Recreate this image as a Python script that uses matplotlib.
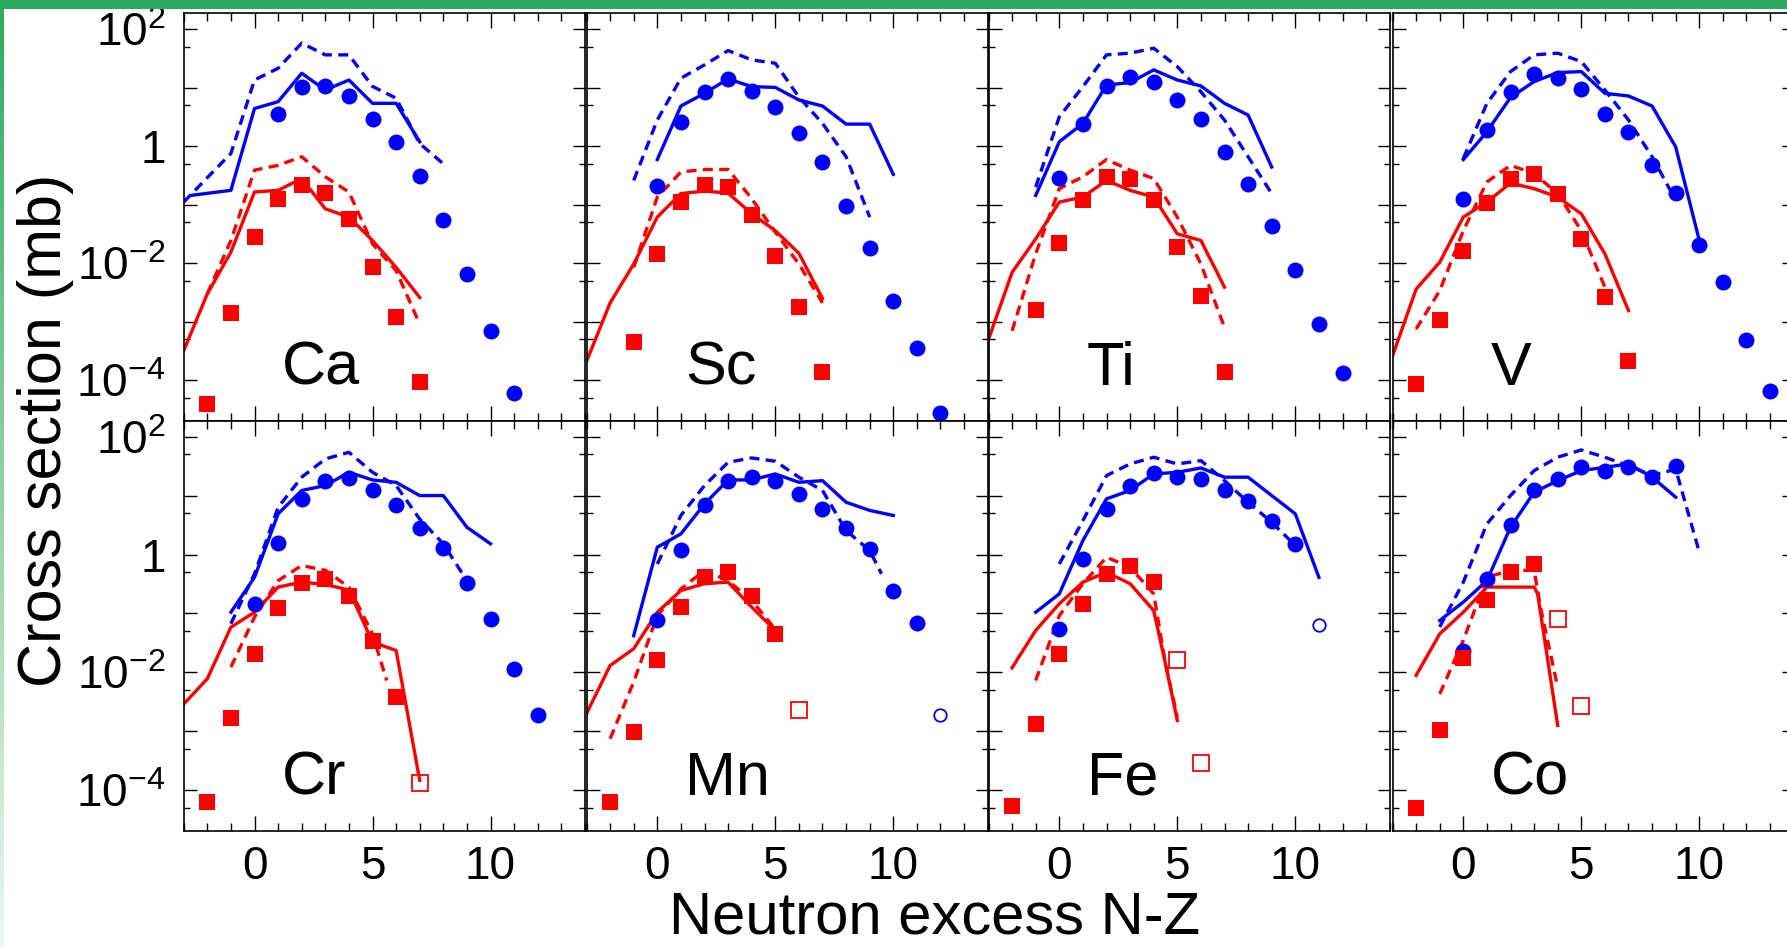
import numpy as np
import matplotlib
matplotlib.use("Agg")
import matplotlib.pyplot as plt
from matplotlib.ticker import FixedLocator, MultipleLocator, FuncFormatter, NullFormatter
from matplotlib.patches import Rectangle

plt.rcParams['font.family'] = ['Liberation Sans', 'DejaVu Sans']
plt.rcParams['mathtext.fontset'] = 'custom'
plt.rcParams['mathtext.rm'] = 'Liberation Sans'
plt.rcParams['mathtext.it'] = 'Liberation Sans:italic'
plt.rcParams['mathtext.bf'] = 'Liberation Sans:bold'

# ---------------- data ----------------
# naming: <el>_b / _r = blue circles / red squares (data),
# _bs / _bd = blue solid / dashed model, _rs / _rd = red solid / dashed model,
# _bo / _ro = open symbols

# Ca
ca_b_x = [1, 2, 3, 4, 5, 6, 7, 8, 9, 10, 11]
ca_b = [3.6, 10.1, 10.6, 7.2, 2.9, 1.16, 0.31, 0.055, 0.0066, 7.0e-4, 6.1e-5]
ca_r_x = [-2, -1, 0, 1, 2, 3, 4, 5, 6, 7]
ca_r = [3.9e-5, 1.39e-3, 0.028, 0.123, 0.214, 0.158, 0.0575, 8.5e-3, 1.19e-3, 9.4e-5]
ca_bs_x = [-2.7, -1, 0, 1, 2, 3, 4, 5, 6, 7]
ca_bs = [0.144, 0.176, 4.4, 5.75, 17.6, 9.1, 13.5, 5.4, 5.4, 1.19]
ca_bd_x = [-3, -2, -1, 0, 1, 2, 3, 4, 5, 6, 7, 8]
ca_bd = [0.111, 0.29, 0.75, 13.5, 21.4, 57.5, 36.3, 36.3, 10.5, 6.6, 1.11, 0.50]
ca_rs_x = [-3, -2, -1, 0, 1, 2, 3, 4, 5, 6, 7]
ca_rs = [3.2e-4, 3.0e-3, 0.0155, 0.165, 0.176, 0.28, 0.085, 0.0615, 0.0245, 8.5e-3, 2.6e-3]
ca_rd_x = [-2, -1, 0, 1, 2, 3, 4, 5, 6, 7]
ca_rd = [3.0e-3, 0.0245, 0.39, 0.47, 0.66, 0.30, 0.165, 0.0214, 7.5e-3, 9.1e-4]

# Sc
sc_b_x = [0, 1, 2, 3, 4, 5, 6, 7, 8, 9, 10, 11, 12]
sc_b = [0.206, 2.6, 8.5, 13.9, 8.9, 4.6, 1.65, 0.54, 0.094, 0.0183, 2.3e-3, 3.5e-4, 2.8e-5]
sc_r_x = [-1, 0, 1, 2, 3, 4, 5, 6, 7]
sc_r = [4.6e-4, 0.0145, 0.111, 0.214, 0.2, 0.067, 0.0135, 1.76e-3, 1.4e-4]
sc_bs_x = [0, 1, 2, 3, 4, 5, 6, 7, 8, 9, 10]
sc_bs = [0.59, 4.85, 8.0, 14.1, 10.4, 10.1, 6.15, 4.85, 2.38, 2.38, 0.33]
sc_bd_x = [-1, 0, 1, 2, 3, 4, 5, 6, 7, 8, 9]
sc_bd = [0.26, 2.8, 14.5, 24.5, 43, 29.8, 26.1, 6.9, 2.45, 0.66, 0.0615]
sc_rs_x = [-3, -2, -1, 0, 1, 2, 3, 4, 5, 6, 7]
sc_rs = [2.1e-4, 2.1e-3, 9.7e-3, 0.0615, 0.155, 0.171, 0.158, 0.070, 0.036, 0.0148, 2.5e-3]
sc_rd_x = [-1, 0, 1, 2, 3, 4, 5, 6, 7]
sc_rd = [8.5e-3, 0.135, 0.363, 0.4, 0.4, 0.127, 0.034, 9.7e-3, 2.1e-3]

# Ti
ti_b_x = [0, 1, 2, 3, 4, 5, 6, 7, 8, 9, 10, 11, 12]
ti_b = [0.29, 2.38, 10.7, 15.0, 12.7, 6.15, 2.87, 0.80, 0.23, 0.0425, 7.7e-3, 9.1e-4, 1.35e-4]
ti_r_x = [-1, 0, 1, 2, 3, 4, 5, 6, 7]
ti_r = [1.58e-3, 0.022, 0.122, 0.30, 0.27, 0.122, 0.0188, 2.8e-3, 1.4e-4]
ti_bs_x = [-1, 0, 1, 2, 3, 4, 5, 6, 7, 8, 9]
ti_bs = [0.144, 1.19, 2.45, 11.1, 12.2, 20.1, 13.5, 10.7, 5.4, 3.4, 0.44]
ti_bd_x = [-1, 0, 1, 2, 3, 4, 5, 6, 7, 8, 9]
ti_bd = [0.2, 3.18, 10.4, 36.3, 38.8, 47.2, 22.9, 8.5, 2.8, 0.66, 0.155]
ti_rs_x = [-3, -2, -1, 0, 1, 2, 3, 4, 5, 6, 7]
ti_rs = [5.0e-4, 7.0e-3, 0.026, 0.111, 0.135, 0.26, 0.176, 0.135, 0.0318, 0.0245, 3.9e-3]
ti_rd_x = [-2, -1, 0, 1, 2, 3, 4, 5, 6, 7]
ti_rd = [7.0e-4, 0.0145, 0.188, 0.3, 0.59, 0.39, 0.28, 0.0615, 9.7e-3, 8.0e-4]

# V
v_b_x = [0, 1, 2, 3, 4, 5, 6, 7, 8, 9, 10, 11, 12, 13]
v_b = [0.127, 1.88, 8.5, 17.1, 14.5, 9.4, 3.54, 1.76, 0.47, 0.158, 0.0209, 4.7e-3, 4.9e-4, 6.6e-5]
v_r_x = [-2, -1, 0, 1, 2, 3, 4, 5, 6, 7]
v_r = [8.8e-5, 1.07e-3, 0.0161, 0.108, 0.27, 0.33, 0.15, 0.026, 2.6e-3, 2.1e-4]
v_bs_x = [0, 1, 2, 3, 4, 5, 6, 7, 8, 9, 10]
v_bs = [0.59, 1.76, 6.8, 12.7, 18.1, 18.8, 8.0, 7.2, 4.85, 0.97, 0.0245]
v_bd_x = [0, 1, 2, 3, 4, 5, 6, 7, 8, 9]
v_bd = [0.615, 5.4, 18.8, 36.3, 38.8, 27.9, 9.1, 2.8, 0.66, 0.119]
v_rs_x = [-3, -2, -1, 0, 1, 2, 3, 4, 5, 6, 7]
v_rs = [2.6e-4, 3.6e-3, 0.0104, 0.0615, 0.111, 0.235, 0.188, 0.135, 0.070, 0.0145, 1.55e-3]
v_rd_x = [-2, -1, 0, 1, 2, 3, 4, 5, 6]
v_rd = [7.5e-4, 3.4e-3, 0.036, 0.245, 0.47, 0.34, 0.155, 0.036, 3.9e-3]

# Cr
cr_b_x = [0, 1, 2, 3, 4, 5, 6, 7, 8, 9, 10, 11, 12]
cr_b = [0.146, 1.56, 8.8, 17.9, 19.7, 12.2, 6.8, 2.83, 1.3, 0.33, 0.081, 0.0115, 1.9e-3]
cr_r_x = [-2, -1, 0, 1, 2, 3, 4, 5, 6]
cr_r = [6.3e-5, 1.7e-3, 0.0207, 0.125, 0.33, 0.39, 0.20, 0.0335, 3.9e-3]
cr_ro_x = [7]
cr_ro = [1.33e-4]
cr_bs_x = [-1, 0, 1, 2, 3, 4, 5, 6, 7, 8, 9, 10]
cr_bs = [0.105, 0.41, 4.9, 12.2, 14.8, 24.8, 18.4, 16.8, 10, 10, 2.9, 1.52]
cr_bd_x = [-1, 0, 1, 2, 3, 4, 5, 6, 7, 8, 9]
cr_bd = [0.067, 0.47, 6.3, 20.5, 41.8, 54.2, 24.8, 14.8, 4.0, 1.52, 0.36]
cr_rs_x = [-3, -2, -1, 0, 1, 2, 3, 4, 5, 6, 7]
cr_rs = [2.9e-3, 7.8e-3, 0.0586, 0.105, 0.28, 0.34, 0.31, 0.25, 0.0327, 0.0236, 1.48e-4]
cr_rd_x = [-1, 0, 1, 2, 3, 4, 5, 5.6]
cr_rd = [0.0123, 0.087, 0.36, 0.65, 0.54, 0.28, 0.045, 7.3e-3]

# Mn
mn_b_x = [0, 1, 2, 3, 4, 5, 6, 7, 8, 9, 10, 11]
mn_b = [0.076, 1.17, 7.0, 17.9, 21.0, 17.9, 10.7, 5.9, 2.8, 1.25, 0.245, 0.0695]
mn_bo_x = [12]
mn_bo = [1.87e-3]
mn_r_x = [-2, -1, 0, 1, 2, 3, 4, 5]
mn_r = [6.3e-5, 9.7e-4, 0.0164, 0.128, 0.41, 0.50, 0.20, 0.045]
mn_ro_x = [6]
mn_ro = [2.27e-3]
mn_bs_x = [-1, 0, 1, 2, 3, 4, 5, 6, 7, 8, 9, 10]
mn_bs = [0.042, 1.33, 2.24, 7.2, 18.4, 18.4, 23.3, 16.8, 17.9, 7.7, 5.6, 4.6]
mn_bd_x = [0, 1, 2, 3, 4, 5, 6, 7, 8, 9, 9.5]
mn_bd = [0.69, 4.6, 14.8, 36.7, 43.5, 38.2, 20.5, 12.2, 2.55, 1.17, 0.47]
mn_rs_x = [-3, -2, -1, 0, 1, 2, 3, 4, 5]
mn_rs = [2.0e-3, 0.0131, 0.0252, 0.105, 0.245, 0.32, 0.34, 0.128, 0.0515]
mn_rd_x = [-2, -1, 0, 1, 2, 3, 4, 5]
mn_rd = [7.5e-4, 6.9e-3, 0.092, 0.26, 0.54, 0.36, 0.166, 0.054]

# Fe
fe_b_x = [0, 1, 2, 3, 4, 5, 6, 7, 8, 9, 10]
fe_b = [0.055, 0.85, 5.9, 14.8, 23.9, 21.0, 19.1, 12.2, 8.2, 3.67, 1.52]
fe_bo_x = [11]
fe_bo = [0.063]
fe_r_x = [-2, -1, 0, 1, 2, 3, 4]
fe_r = [5.4e-5, 1.35e-3, 0.0207, 0.146, 0.47, 0.65, 0.34]
fe_ro_x = [5, 6]
fe_ro = [0.016, 2.9e-4]
fe_bs_x = [-1, 0, 1, 2, 3, 4, 5, 6, 7, 8, 9, 10, 11]
fe_bs = [0.105, 0.215, 1.73, 8.8, 12.2, 23.3, 24.8, 29.4, 20.5, 20.5, 10, 4.9, 0.41]
fe_bd_x = [0, 1, 2, 3, 4, 5, 6, 7, 8, 9, 10]
fe_bd = [0.69, 3.77, 21.8, 34.4, 44.7, 34.4, 39.2, 17.9, 7.7, 3.53, 1.42]
fe_rs_x = [-2, -1, 0, 1, 2, 3, 4, 4.5, 5]
fe_rs = [0.012, 0.0515, 0.146, 0.34, 0.50, 0.32, 0.112, 0.014, 1.53e-3]
fe_rd_x = [-1, 0, 1, 2, 3, 4, 4.5, 5]
fe_rd = [7.3e-3, 0.092, 0.32, 0.90, 0.61, 0.215, 0.014, 1.75e-3]

# Co
co_b_x = [0, 1, 2, 3, 4, 5, 6, 7, 8, 9]
co_b = [0.023, 0.39, 3.18, 12.6, 19.1, 31.0, 26.5, 31.0, 21.0, 32.2]
co_r_x = [-2, -1, 0, 1, 2, 3]
co_r = [5.1e-5, 1.04e-3, 0.0177, 0.166, 0.50, 0.695]
co_ro_x = [4, 5]
co_ro = [0.081, 2.65e-3]
co_bs_x = [-1, 0, 1, 2, 3, 4, 5, 6, 7, 8, 9]
co_bs = [0.076, 0.156, 0.36, 2.9, 11.4, 17.9, 26.5, 30.2, 34.4, 20.5, 9.4]
co_bd_x = [-1, 0, 1, 2, 3, 4, 5, 6, 7, 8, 9, 10]
co_bd = [0.059, 0.34, 3.3, 10, 26.5, 44.7, 59.4, 44.7, 32, 22, 28, 1.1]
co_rs_x = [-2, -1, 0, 1, 2, 3, 3.15, 4]
co_rs = [8.9e-3, 0.045, 0.105, 0.28, 0.28, 0.28, 0.215, 1.26e-3]
co_rd_x = [-1, 0, 1, 2, 3, 3.3, 4]
co_rd = [4.3e-3, 0.035, 0.41, 0.54, 0.54, 0.112, 5.6e-3]

names = ["Ca", "Sc", "Ti", "V", "Cr", "Mn", "Fe", "Co"]
empty = ([], [])
panels = [
    ((ca_b_x, ca_b), (ca_r_x, ca_r), (ca_bs_x, ca_bs), (ca_bd_x, ca_bd), (ca_rs_x, ca_rs), (ca_rd_x, ca_rd), empty, empty),
    ((sc_b_x, sc_b), (sc_r_x, sc_r), (sc_bs_x, sc_bs), (sc_bd_x, sc_bd), (sc_rs_x, sc_rs), (sc_rd_x, sc_rd), empty, empty),
    ((ti_b_x, ti_b), (ti_r_x, ti_r), (ti_bs_x, ti_bs), (ti_bd_x, ti_bd), (ti_rs_x, ti_rs), (ti_rd_x, ti_rd), empty, empty),
    ((v_b_x, v_b), (v_r_x, v_r), (v_bs_x, v_bs), (v_bd_x, v_bd), (v_rs_x, v_rs), (v_rd_x, v_rd), empty, empty),
    ((cr_b_x, cr_b), (cr_r_x, cr_r), (cr_bs_x, cr_bs), (cr_bd_x, cr_bd), (cr_rs_x, cr_rs), (cr_rd_x, cr_rd), empty, (cr_ro_x, cr_ro)),
    ((mn_b_x, mn_b), (mn_r_x, mn_r), (mn_bs_x, mn_bs), (mn_bd_x, mn_bd), (mn_rs_x, mn_rs), (mn_rd_x, mn_rd), (mn_bo_x, mn_bo), (mn_ro_x, mn_ro)),
    ((fe_b_x, fe_b), (fe_r_x, fe_r), (fe_bs_x, fe_bs), (fe_bd_x, fe_bd), (fe_rs_x, fe_rs), (fe_rd_x, fe_rd), (fe_bo_x, fe_bo), (fe_ro_x, fe_ro)),
    ((co_b_x, co_b), (co_r_x, co_r), (co_bs_x, co_bs), (co_bd_x, co_bd), (co_rs_x, co_rs), (co_rd_x, co_rd), empty, (co_ro_x, co_ro)),
]

ylabels = {2: r"10$^{2}$", 0: "1", -2: r"10$^{-2}$", -4: r"10$^{-4}$"}

# ---------------- figure ----------------
W, H = 1787.0, 948.0
fig = plt.figure(figsize=(W / 100, H / 100), dpi=100)
fig.patch.set_facecolor("white")

col_left = [183.7, 586.5, 988.5, 1392.5]
col_w = 401.2
row_top = [13.3, 420.7]
row_h = [407.4, 410.3]

BLUE = "#0000ff"
RED = "#ff0000"
LW = 2.4
DASH = (3.0, 1.9)


def yfmt(v, pos):
    e = int(round(np.log10(v)))
    return ylabels.get(e, "")


for k, p in enumerate(panels):
    r, c = divmod(k, 4)
    ax = fig.add_axes([col_left[c] / W, 1 - (row_top[r] + row_h[r]) / H,
                       col_w / W, row_h[r] / H])
    blue, red, bs, bd, rs, rd, bo, ro = p

    ax.plot(bs[0], bs[1], color=BLUE, lw=LW, zorder=2)
    ax.plot(bd[0], bd[1], color=BLUE, lw=LW, dashes=DASH, zorder=2)
    ax.plot(rs[0], rs[1], color=RED, lw=LW, zorder=2)
    ax.plot(rd[0], rd[1], color=RED, lw=LW, dashes=DASH, zorder=2)

    ax.plot(blue[0], blue[1], "o", color=BLUE, ms=11.5, mew=0, zorder=3)
    ax.plot(red[0], red[1], "s", color=RED, ms=11, mew=0, zorder=3)
    if bo[0]:
        ax.plot(bo[0], bo[1], "o", mfc="none", mec=BLUE, ms=9, mew=1.3,
                zorder=3)
    if ro[0]:
        ax.plot(ro[0], ro[1], "s", mfc="none", mec=RED, ms=12, mew=1.3, zorder=3)

    ax.set_yscale("log")
    ax.set_xlim(-3, 14)
    ax.set_ylim(10 ** -4.69, 10 ** 2.27)

    ax.xaxis.set_major_locator(MultipleLocator(5))
    ax.xaxis.set_minor_locator(MultipleLocator(1))
    ax.yaxis.set_major_locator(FixedLocator([10.0 ** e for e in range(-5, 3)]))
    ax.yaxis.set_minor_locator(FixedLocator([5 * 10.0 ** e for e in range(-6, 2)]))
    ax.yaxis.set_major_formatter(FuncFormatter(yfmt))
    ax.yaxis.set_minor_formatter(NullFormatter())

    ax.tick_params(which="both", direction="in", top=True, right=True,
                   width=1.0, colors="black", labelsize=33)
    ax.tick_params(axis="x", which="major", length=11, pad=10)
    ax.tick_params(axis="x", which="minor", length=5.5)
    ax.tick_params(axis="y", which="major", length=9, pad=13)
    ax.tick_params(axis="y", which="minor", length=4)
    for s in ax.spines.values():
        s.set_linewidth(1.2)

    if c != 0:
        ax.tick_params(labelleft=False)
    if r == 0:
        ax.tick_params(labelbottom=False)

    ax.text(0.245, 0.088, names[k], transform=ax.transAxes, fontsize=44,
            ha="left", va="baseline")

fig.text(934.5 / W, 1 - 934 / H, "Neutron excess N-Z", fontsize=43,
         ha="center", va="baseline")
fig.text(61 / W, 1 - 430 / H, "Cross section (mb)", fontsize=44, rotation=90,
         rotation_mode="anchor", ha="center", va="baseline")

# green slide frame: top band and fading left strip
fig.patches.append(Rectangle((0, 1 - 8.5 / H), 1, 8.5 / H, transform=fig.transFigure,
                             facecolor="#2eab5e", edgecolor="none", zorder=10))
strip = fig.add_axes([0, 0, 3.5 / W, 1 - 8.5 / H])
top_c = np.array([46, 171, 94]) / 255.0
bot_c = np.array([238, 246, 240]) / 255.0
t = np.linspace(0, 1, 200)[:, None]
grad = top_c[None, :] * (1 - t) + bot_c[None, :] * t
strip.imshow(grad[:, None, :], aspect="auto", extent=(0, 1, 0, 1))
strip.axis("off")

fig.savefig("out.png", dpi=100)
